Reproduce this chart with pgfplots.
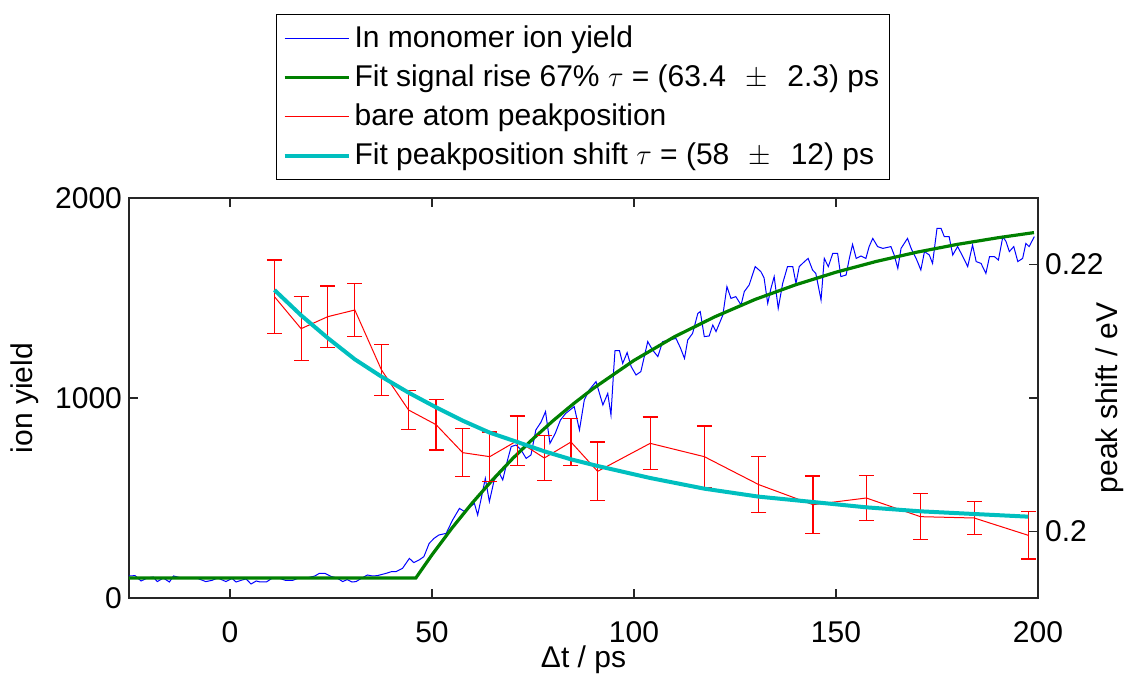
\documentclass[border=0pt]{standalone}
\usepackage{fontspec}
\setmainfont{Liberation Sans}
\usepackage{pgfplots}
\pgfplotsset{compat=1.18}
\usetikzlibrary{calc}

\definecolor{mblue}{RGB}{0,0,255}
\definecolor{mgreen}{RGB}{0,128,0}
\definecolor{mred}{RGB}{255,0,0}
\definecolor{mcyan}{RGB}{0,191,191}

\newcommand{\ff}{\fontsize{15}{18}\selectfont}

\pgfplotsset{
  base/.style={
    width=454.5pt, height=200pt, scale only axis,
    xmin=-25, xmax=200,
    tick align=inside, major tick length=4.5pt,
    /pgf/number format/assume math mode=true,
    /pgf/number format/1000 sep={},
    tick label style={font=\ff},
    label style={font=\ff},
    axis line style={line width=0.6pt, black!85},
    every tick/.style={line width=0.6pt, black!85},
  },
}

\begin{document}
\begin{tikzpicture}
% left axis: ion yield
\begin{axis}[
  base,
  ymin=0, ymax=2000,
  xtick={0,50,100,150,200},
  ytick={0,1000,2000},
  ytick pos=left, xtick pos=both,
  xlabel={Δt / ps},
  ylabel={ion yield},
  xlabel style={at={(axis description cs:0.5,-0.155)}, anchor=center},
  ylabel style={at={(axis description cs:-0.1144,0.5)}, anchor=center},
  xticklabel style={yshift=-8pt},
]
\coordinate (sw) at (rel axis cs:0,0);
\coordinate (ne) at (rel axis cs:1,1);
\addplot[mblue, line width=0.5pt] table[row sep=\\] {
x y \\
-25 110 \\ -23.5 112 \\ -22 85 \\ -20.5 100 \\ -19 105 \\ -18 82 \\ -16.5 100 \\
-15 80 \\ -14 110 \\ -12 100 \\ -10 100 \\ -8 98 \\ -6 82 \\ -4.5 88 \\ -3 100 \\
-1 82 \\ 0.5 98 \\ 1.5 80 \\ 3 90 \\ 4 95 \\ 5.2 70 \\ 6.5 85 \\ 7.5 80 \\ 9 80 \\
10.5 100 \\ 12 100 \\ 13.8 88 \\ 15.5 88 \\ 17 100 \\ 19 100 \\ 21 110 \\ 22.1 123 \\
23.5 123 \\ 25 108 \\ 26.5 100 \\ 27.9 82 \\ 29 92 \\ 30.2 80 \\ 31.2 82 \\ 32.5 98 \\
34 115 \\ 35.3 110 \\ 36.5 112 \\ 38.6 123 \\ 40 132 \\ 41.1 132 \\ 42.7 148 \\
44.4 198 \\ 45.5 177 \\ 46.8 190 \\ 48 207 \\ 49.3 273 \\ 50.5 298 \\ 51.7 315 \\
53.5 323 \\ 55.1 390 \\ 56.8 448 \\ 58 433 \\ 60.5 473 \\ 61.3 415 \\ 62.1 490 \\
63.2 598 \\ 64.2 482 \\ 65.4 590 \\ 66.7 623 \\ 67.5 590 \\ 68.7 690 \\ 69.6 757 \\
70.8 765 \\ 72 742 \\ 73.3 698 \\ 74.5 715 \\ 75.7 840 \\ 77 880 \\ 78.1 932 \\
79.2 773 \\ 80.5 823 \\ 81.8 890 \\ 83.1 923 \\ 85.2 957 \\ 86.5 840 \\ 87.7 990 \\
88.9 1040 \\ 90.6 1082 \\ 92.3 965 \\ 93.5 1023 \\ 94.3 915 \\ 95 1148 \\ 95.3 1237 \\
96.4 1237 \\ 97.2 1173 \\ 98.3 1227 \\ 99.3 1157 \\ 100.5 1115 \\ 101.7 1132 \\
103.4 1282 \\ 104.6 1240 \\ 105.9 1207 \\ 107.1 1282 \\ 108.7 1290 \\ 110.4 1298 \\
111.5 1250 \\ 112.5 1198 \\ 113.3 1290 \\ 114.5 1323 \\ 115.8 1423 \\ 116.4 1432 \\
117.4 1307 \\ 118.6 1310 \\ 119.5 1365 \\ 120.3 1332 \\ 122 1415 \\ 123 1557 \\
124 1498 \\ 125.2 1507 \\ 126.5 1465 \\ 127.3 1532 \\ 128.5 1565 \\ 130 1657 \\
131.4 1632 \\ 132.2 1600 \\ 133.1 1473 \\ 133.9 1548 \\ 134.7 1607 \\ 135.7 1448 \\
136.8 1573 \\ 138 1657 \\ 139.3 1657 \\ 140.1 1573 \\ 140.9 1657 \\ 142.2 1682 \\
143.1 1698 \\ 144.2 1640 \\ 145 1623 \\ 146.3 1490 \\ 147.1 1698 \\ 148.1 1657 \\
149.2 1723 \\ 150.4 1723 \\ 151.2 1607 \\ 152.5 1615 \\ 153.3 1698 \\ 154.1 1768 \\
155 1698 \\ 156.2 1710 \\ 157.4 1698 \\ 158.2 1757 \\ 159.1 1798 \\ 160.3 1757 \\
161.6 1748 \\ 163.6 1757 \\ 164.4 1715 \\ 165.3 1648 \\ 166.1 1748 \\ 167.7 1798 \\
168.6 1748 \\ 170 1690 \\ 171 1640 \\ 171.9 1732 \\ 173.1 1715 \\ 173.9 1673 \\
175 1848 \\ 176 1848 \\ 176.8 1807 \\ 178 1807 \\ 178.9 1715 \\ 180.1 1757 \\
181.4 1707 \\ 182.6 1657 \\ 183.8 1765 \\ 184.7 1682 \\ 185.9 1673 \\ 187.1 1623 \\
188 1707 \\ 189.2 1707 \\ 190.2 1690 \\ 191.3 1807 \\ 192.1 1782 \\ 192.9 1732 \\
194 1757 \\ 195 1682 \\ 196.2 1698 \\ 197 1773 \\ 197.8 1757 \\ 199.1 1807 \\
};
\addplot[mgreen, line width=1.6pt] coordinates {
(-25,100) (46,100) (50,216) (55,351) (60,476) (65,591) (70,698) (75,796)
(80,887) (85,971) (90,1049) (100,1188) (110,1306) (120,1406) (130,1493)
(140,1566) (150,1629) (160,1683) (170,1729) (180,1768) (190,1801) (199,1827)
};
\end{axis}

% right axis: peak shift
\begin{axis}[
  base,
  ymin=0.195, ymax=0.225,
  axis x line=none, axis y line*=right,
  ytick={0.2,0.21,0.22},
  yticklabels={0.2,,0.22},
  ylabel={peak shift / eV},
  ylabel style={at={(axis description cs:1.079,0.5)}, anchor=center},
  legend style={
    at={(axis description cs:0.1617,1.46)}, anchor=north west,
    draw=black, line width=0.6pt, fill=white, font=\ff,
    inner xsep=3pt, inner ysep=2pt, row sep=0pt,
    nodes={inner ysep=3.6pt, inner xsep=2pt},
    cells={anchor=west},
  },
  legend image code/.code={\draw[#1] (0pt,0pt) -- (32pt,0pt);},
]
\addlegendimage{mblue, line width=0.5pt}
\addlegendentry{In monomer ion yield}
\addlegendimage{mgreen, line width=1.6pt}
\addlegendentry{Fit signal rise 67\% $\tau$ = (63.4\hspace{0.65em}$\pm$\hspace{0.65em}2.3) ps}
\addplot[mred, line width=0.5pt,
  error bars/.cd, y dir=both, y explicit,
  error bar style={mred, line width=0.6pt},
  error mark options={mred, rotate=90, mark size=3.75pt, line width=0.6pt}]
coordinates {
(11,0.2176) +- (0,0.00275)
(17.6,0.2152) +- (0,0.0024)
(24.2,0.2161) +- (0,0.0023)
(30.9,0.2166) +- (0,0.00196)
(37.5,0.2121) +- (0,0.0019)
(44.2,0.2091) +- (0,0.00148)
(51,0.2080) +- (0,0.0019)
(57.6,0.2059) +- (0,0.0018)
(64.3,0.2056) +- (0,0.00185)
(71.1,0.2068) +- (0,0.00185)
(77.8,0.2055) +- (0,0.00166)
(84.4,0.2067) +- (0,0.00174)
(91,0.2045) +- (0,0.0022)
(104,0.2066) +- (0,0.00198)
(117.4,0.2056) +- (0,0.0023)
(130.9,0.2035) +- (0,0.0021)
(144.3,0.2020) +- (0,0.00215)
(157.5,0.2025) +- (0,0.00168)
(170.9,0.2011) +- (0,0.00173)
(184.2,0.2010) +- (0,0.00125)
(197.6,0.1997) +- (0,0.00178)
};
\addlegendentry{bare atom peakposition}
\addplot[mcyan, line width=2pt] coordinates {
(11,0.2181) (17.6,0.2162) (24.2,0.2145) (30.9,0.2129) (37.5,0.2116)
(44.2,0.2104) (51,0.2093) (57.6,0.2083) (64.3,0.2074) (71.1,0.2067)
(77.8,0.2060) (84.4,0.2054) (91,0.2049) (104,0.2040) (117.4,0.2032)
(130.9,0.2026) (144.3,0.2022) (157.5,0.2018) (170.9,0.2015) (184.2,0.2013)
(197.6,0.2011)
};
\addlegendentry{Fit peakposition shift $\tau$ = (58\hspace{0.65em}$\pm$\hspace{0.65em}12) ps}
\end{axis}

\pgfresetboundingbox
\useasboundingbox ($(sw)+(-64.5pt,-38.5pt)$) rectangle ($(ne)+(47pt,99pt)$);
\end{tikzpicture}
\end{document}
